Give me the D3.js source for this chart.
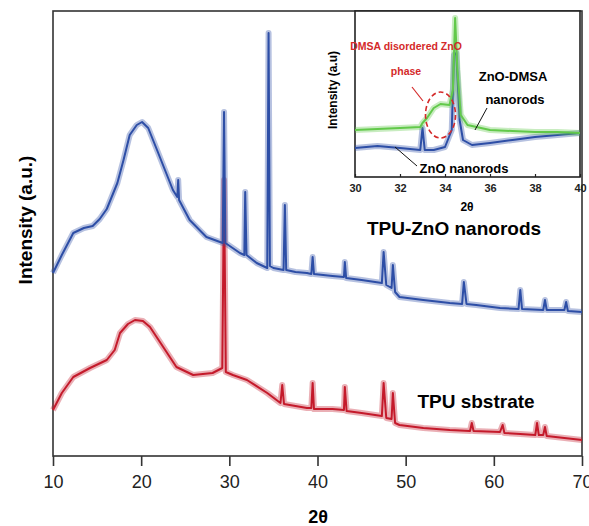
<!DOCTYPE html>
<html>
<head>
<meta charset="utf-8">
<script src="https://cdn.jsdelivr.net/npm/d3@7"></script>
<style>
  body { margin: 0; background: #fff; }
  svg { display: block; font-family: 'Liberation Sans', Arial, sans-serif; }
</style>
</head>
<body>
<svg id="chart" width="589" height="526"></svg>
<script>
// main pattern: [2theta, intensity a.u.]
var tpuZnO = [
  [10, 182], [11, 200], [12.3, 222], [13.5, 227], [14.5, 229], [15.3, 236], [16.1, 246],
  [17.3, 272], [18, 295], [18.7, 320], [19.5, 330], [20.1, 333], [20.8, 327], [21.8, 305],
  [22.7, 285], [23.6, 265], [24.1, 258], [24.2, 275], [24.3, 255], [25.5, 235], [27.4, 218],
  [29.25, 212], [29.4, 343], [29.55, 212], [31.2, 202], [31.7, 200], [31.8, 263], [31.95, 200],
  [33.1, 192], [34.3, 187], [34.45, 422], [34.6, 189], [35, 187], [36.15, 185], [36.3, 250],
  [36.45, 185], [37.5, 183], [38.8, 182], [39.3, 181], [39.45, 198], [39.6, 181], [41.7, 179],
  [43, 178], [43.1, 193], [43.25, 177], [45, 175], [47.3, 172], [47.5, 203], [47.8, 170],
  [48.4, 167], [48.55, 190], [48.8, 163], [49.3, 158], [52, 155], [55, 152], [56.4, 151],
  [56.6, 173], [56.9, 151], [58, 150], [60.7, 147], [62.8, 146], [63, 165], [63.2, 146],
  [65.6, 145], [65.8, 155], [66, 145], [68, 145], [68.2, 153], [68.4, 144], [70, 143]
]
var tpu = [
  [10, 45], [11, 62], [12.3, 78], [14.2, 87], [16.1, 95], [17, 105], [17.6, 122], [18.5, 131],
  [19.3, 135], [20.2, 134], [21, 128], [22.5, 108], [24, 88], [25.9, 80], [28.1, 82], [29.2, 87],
  [29.4, 275], [29.6, 83], [30.4, 80], [32, 75], [34.3, 62], [35.8, 52], [36, 70], [36.2, 51],
  [38.8, 47], [39.3, 47], [39.45, 72], [39.6, 46], [41.7, 46], [43, 45], [43.1, 68], [43.3, 44],
  [45, 42], [47.3, 39], [47.5, 72], [47.8, 37], [48.4, 36], [48.55, 62], [48.8, 32], [49.3, 30],
  [52, 27], [55, 25], [57.3, 24], [57.5, 32], [57.7, 24], [60.7, 23], [61, 30], [61.2, 22],
  [63, 21], [64.7, 20], [64.9, 32], [65.1, 20], [65.6, 20], [65.8, 28], [66, 19], [68, 17], [70, 15]
]
// inset pattern 30-40 deg
var znoDMSA = [
  [30, 47], [31, 48], [32, 49], [32.9, 50], [33, 54], [33.2, 59], [33.5, 69], [33.8, 73],
  [34.2, 72], [34.35, 87], [34.45, 159], [34.55, 107], [34.7, 62], [35, 52], [36, 47],
  [37, 46], [38, 45], [39, 45], [40, 44]
]
var znoRods = [
  [30, 29], [31, 31], [32, 29], [32.9, 27], [33, 49], [33.1, 27], [33.5, 27], [34, 30],
  [34.3, 47], [34.4, 122], [34.5, 124], [34.65, 57], [34.8, 37], [35.2, 32], [36, 34],
  [37, 37], [38, 40], [39, 42], [40, 44]
]
var mainTicks = [10, 20, 30, 40, 50, 60, 70]
var insetTicks = [30, 32, 34, 36, 38, 40]

var svg = d3.select('#chart')

var x = d3.scaleLinear().domain([10, 70]).range([53, 582])
var y = d3.scaleLinear().domain([0, 444]).range([455, 11])

var line = d3.line()
  .x(function(d) { return x(d[0]) })
  .y(function(d) { return y(d[1]) })

// draws a trace as a soft band plus a core line (the scan is noisy)
function trace(g, data, gen, color, band, core) {
  g.append('path')
    .datum(data)
    .attr('d', gen)
    .attr('fill', 'none')
    .attr('stroke', color)
    .attr('stroke-opacity', 0.35)
    .attr('stroke-width', band)
    .attr('stroke-linejoin', 'round')
  g.append('path')
    .datum(data)
    .attr('d', gen)
    .attr('fill', 'none')
    .attr('stroke', color)
    .attr('stroke-width', core)
    .attr('stroke-linejoin', 'round')
}

// frame
svg.append('rect')
  .attr('x', 53).attr('y', 11)
  .attr('width', 529).attr('height', 445)
  .attr('fill', 'none')
  .attr('stroke', '#333')
  .attr('stroke-width', 1.6)

var xAxis = svg.append('g')
  .attr('transform', 'translate(0,456)')
  .call(d3.axisBottom(x).tickValues(mainTicks).tickSize(10).tickSizeOuter(0).tickPadding(9))
xAxis.select('.domain').remove()
xAxis.selectAll('line').attr('stroke', '#333').attr('stroke-width', 1.6)
xAxis.selectAll('text')
  .attr('font-size', 18)
  .attr('fill', '#222')
  .attr('font-family', "'Liberation Sans', Arial, sans-serif")

// traces
trace(svg, tpu, line, '#c41a2b', 6, 2)
trace(svg, tpuZnO, line, '#2d4ea6', 6, 2)

// labels
svg.append('text')
  .attr('x', 454).attr('y', 235)
  .attr('text-anchor', 'middle')
  .attr('font-size', 19).attr('font-weight', 'bold')
  .text('TPU-ZnO nanorods')

svg.append('text')
  .attr('x', 476).attr('y', 408)
  .attr('text-anchor', 'middle')
  .attr('font-size', 19).attr('font-weight', 'bold')
  .text('TPU sbstrate')

svg.append('text')
  .attr('transform', 'translate(32,220) rotate(-90)')
  .attr('text-anchor', 'middle')
  .attr('font-size', 19).attr('font-weight', 'bold')
  .text('Intensity (a.u.)')

svg.append('text')
  .attr('x', 318).attr('y', 523)
  .attr('text-anchor', 'middle')
  .attr('font-size', 18).attr('font-weight', 'bold')
  .text('2θ')

// inset
var xi = d3.scaleLinear().domain([30, 40]).range([355, 580])
var yi = d3.scaleLinear().domain([0, 166]).range([177, 11])
var lineI = d3.line()
  .x(function(d) { return xi(d[0]) })
  .y(function(d) { return yi(d[1]) })

var inset = svg.append('g')

inset.append('rect')
  .attr('x', 355).attr('y', 11)
  .attr('width', 225).attr('height', 166)
  .attr('fill', '#fff')
  .attr('stroke', '#222')
  .attr('stroke-width', 1.6)

trace(inset, znoRods, lineI, '#2d4ea6', 6, 2)
trace(inset, znoDMSA, lineI, '#62c94a', 6, 2)

var xAxisI = inset.append('g')
  .attr('transform', 'translate(0,177)')
  .call(d3.axisBottom(xi).tickValues(insetTicks).tickSize(-3).tickSizeOuter(0).tickPadding(7))
xAxisI.select('.domain').remove()
xAxisI.selectAll('line').attr('stroke', '#222').attr('stroke-width', 1.2)
xAxisI.selectAll('text')
  .attr('font-size', 11).attr('font-weight', 'bold')
  .attr('fill', '#222')
  .attr('font-family', "'Liberation Sans', Arial, sans-serif")

inset.append('text')
  .attr('transform', 'translate(337,90) rotate(-90)')
  .attr('text-anchor', 'middle')
  .attr('font-size', 12).attr('font-weight', 'bold')
  .text('Intensity (a.u)')

inset.append('text')
  .attr('x', 467).attr('y', 211)
  .attr('text-anchor', 'middle')
  .attr('font-size', 12).attr('font-weight', 'bold')
  .text('2θ')

// disordered phase ring
inset.append('ellipse')
  .attr('cx', xi(33.8)).attr('cy', yi(62))
  .attr('rx', 15).attr('ry', 23)
  .attr('fill', 'none')
  .attr('stroke', '#d42a2a')
  .attr('stroke-width', 1.6)
  .attr('stroke-dasharray', '5,3')

inset.append('line')
  .attr('x1', 412).attr('y1', 87).attr('x2', 423).attr('y2', 101)
  .attr('stroke', '#d42a2a').attr('stroke-width', 1.2)

inset.append('text')
  .attr('x', 406).attr('y', 50)
  .attr('text-anchor', 'middle')
  .attr('font-size', 10.5).attr('font-weight', 'bold')
  .attr('fill', '#d42a2a')
  .text('DMSA disordered ZnO')

inset.append('text')
  .attr('x', 406).attr('y', 75)
  .attr('text-anchor', 'middle')
  .attr('font-size', 10.5).attr('font-weight', 'bold')
  .attr('fill', '#d42a2a')
  .text('phase')

inset.append('text')
  .attr('x', 513).attr('y', 81)
  .attr('text-anchor', 'middle')
  .attr('font-size', 13).attr('font-weight', 'bold')
  .text('ZnO-DMSA')

inset.append('text')
  .attr('x', 515).attr('y', 104)
  .attr('text-anchor', 'middle')
  .attr('font-size', 13).attr('font-weight', 'bold')
  .text('nanorods')

inset.append('line')
  .attr('x1', 487).attr('y1', 108).attr('x2', 475).attr('y2', 130)
  .attr('stroke', '#111').attr('stroke-width', 1)

inset.append('text')
  .attr('x', 464).attr('y', 173)
  .attr('text-anchor', 'middle')
  .attr('font-size', 13).attr('font-weight', 'bold')
  .text('ZnO nanorods')

inset.append('line')
  .attr('x1', 395).attr('y1', 147).attr('x2', 417).attr('y2', 166)
  .attr('stroke', '#111').attr('stroke-width', 1)
</script>
</body>
</html>
